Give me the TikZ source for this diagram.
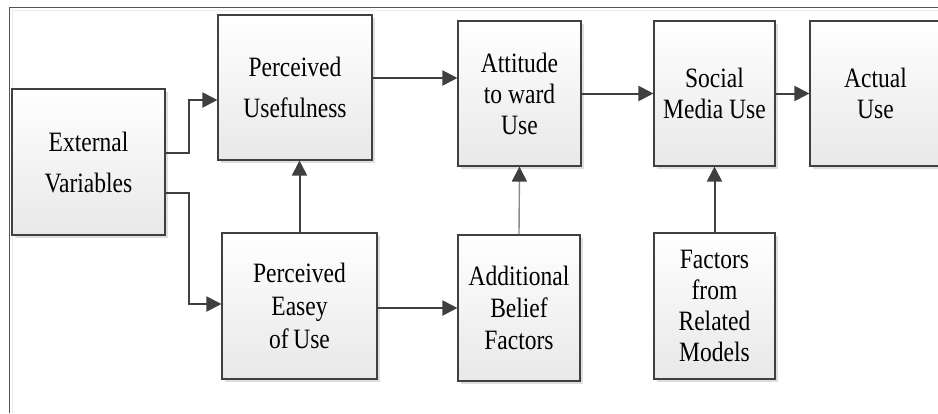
\documentclass[tikz,border=0pt]{standalone}
\usepackage{fontspec}
\setmainfont{Liberation Serif}[FakeStretch=0.84]
\usetikzlibrary{arrows.meta,shadows,positioning}
\definecolor{edgegray}{HTML}{404040}
\definecolor{linegray}{HTML}{3F3F3F}
\definecolor{softgray}{HTML}{8A8A8A}
\definecolor{framegray}{HTML}{555555}
\tikzset{
  box/.style={draw=edgegray, line width=1.1pt, inner sep=0pt, align=center,
    top color=white, bottom color=black!9, shading angle=0,
    drop shadow={shadow xshift=3pt, shadow yshift=-3pt, fill=black!13, opacity=1},
    font=\fontsize{28}{31}\selectfont},
  wide/.style={font=\fontsize{28}{41}\selectfont},
  arr/.style={draw=linegray, line width=2pt, -{Triangle[length=15pt,width=15pt]}},
  softarr/.style={draw=softgray, line width=1.4pt, -{Triangle[length=15pt,width=15pt,color=linegray]}},
}
\begin{document}
\begin{tikzpicture}[x=1pt, y=-1pt]
\useasboundingbox (0,0) rectangle (938,413);
% outer frame (top and left edges)
\draw[black!8, line width=1pt] (12,413) -- (12,10) -- (938,10);
\draw[framegray, line width=1pt] (9,413) -- (9,7) -- (938,7);

% boxes
\node[box, wide, minimum width=153pt, minimum height=146pt] (EV) at (88.5,162) {External\\Variables};
\node[box, wide, minimum width=154pt, minimum height=145pt] (PU) at (295,87.5) {Perceived\\Usefulness};
\node[box, minimum width=123pt, minimum height=145pt] (ATT) at (519.5,93.5) {Attitude\\to ward\\Use};
\node[box, minimum width=121pt, minimum height=145pt] (SMU) at (714.5,93.5) {Social\\Media Use};
\node[box, minimum width=131pt, minimum height=145pt] (ACT) at (875.5,93.5) {Actual\\Use};
\node[box, font=\fontsize{28}{33}\selectfont, minimum width=155pt, minimum height=146pt] (PEU) at (299.5,306) {Perceived\\Easey\\of\,Use};
\node[box, font=\fontsize{28}{32}\selectfont, minimum width=122pt, minimum height=146pt] (ABF) at (519,308) {Additional\\Belief\\Factors};
\node[box, minimum width=121pt, minimum height=146pt] (FRM) at (714.5,306) {Factors\\from\\Related\\Models};

% connector start points
\coordinate (puout) at ([yshift=9.5pt]PU.east);
\coordinate (peuout) at ([yshift=-2pt]PEU.east);

% connectors
\draw[arr] ([yshift=9pt]EV.east) -- ++(23,0) |- ([yshift=-12.5pt]PU.west);
\draw[arr] ([yshift=-31pt]EV.east) -- ++(23,0) |- ([yshift=2pt]PEU.west);
\draw[arr] (PEU.north) -- (PEU.north |- PU.south);
\draw[arr] (puout) -- (ATT.west |- puout);
\draw[arr] (peuout) -- (ABF.west |- peuout);
\draw[softarr] (ABF.north) -- (ATT.south);
\draw[arr] (ATT.east) -- (SMU.west |- ATT.east);
\draw[arr] (SMU.east) -- (ACT.west |- SMU.east);
\draw[arr] (FRM.north) -- (SMU.south);
\end{tikzpicture}
\end{document}
